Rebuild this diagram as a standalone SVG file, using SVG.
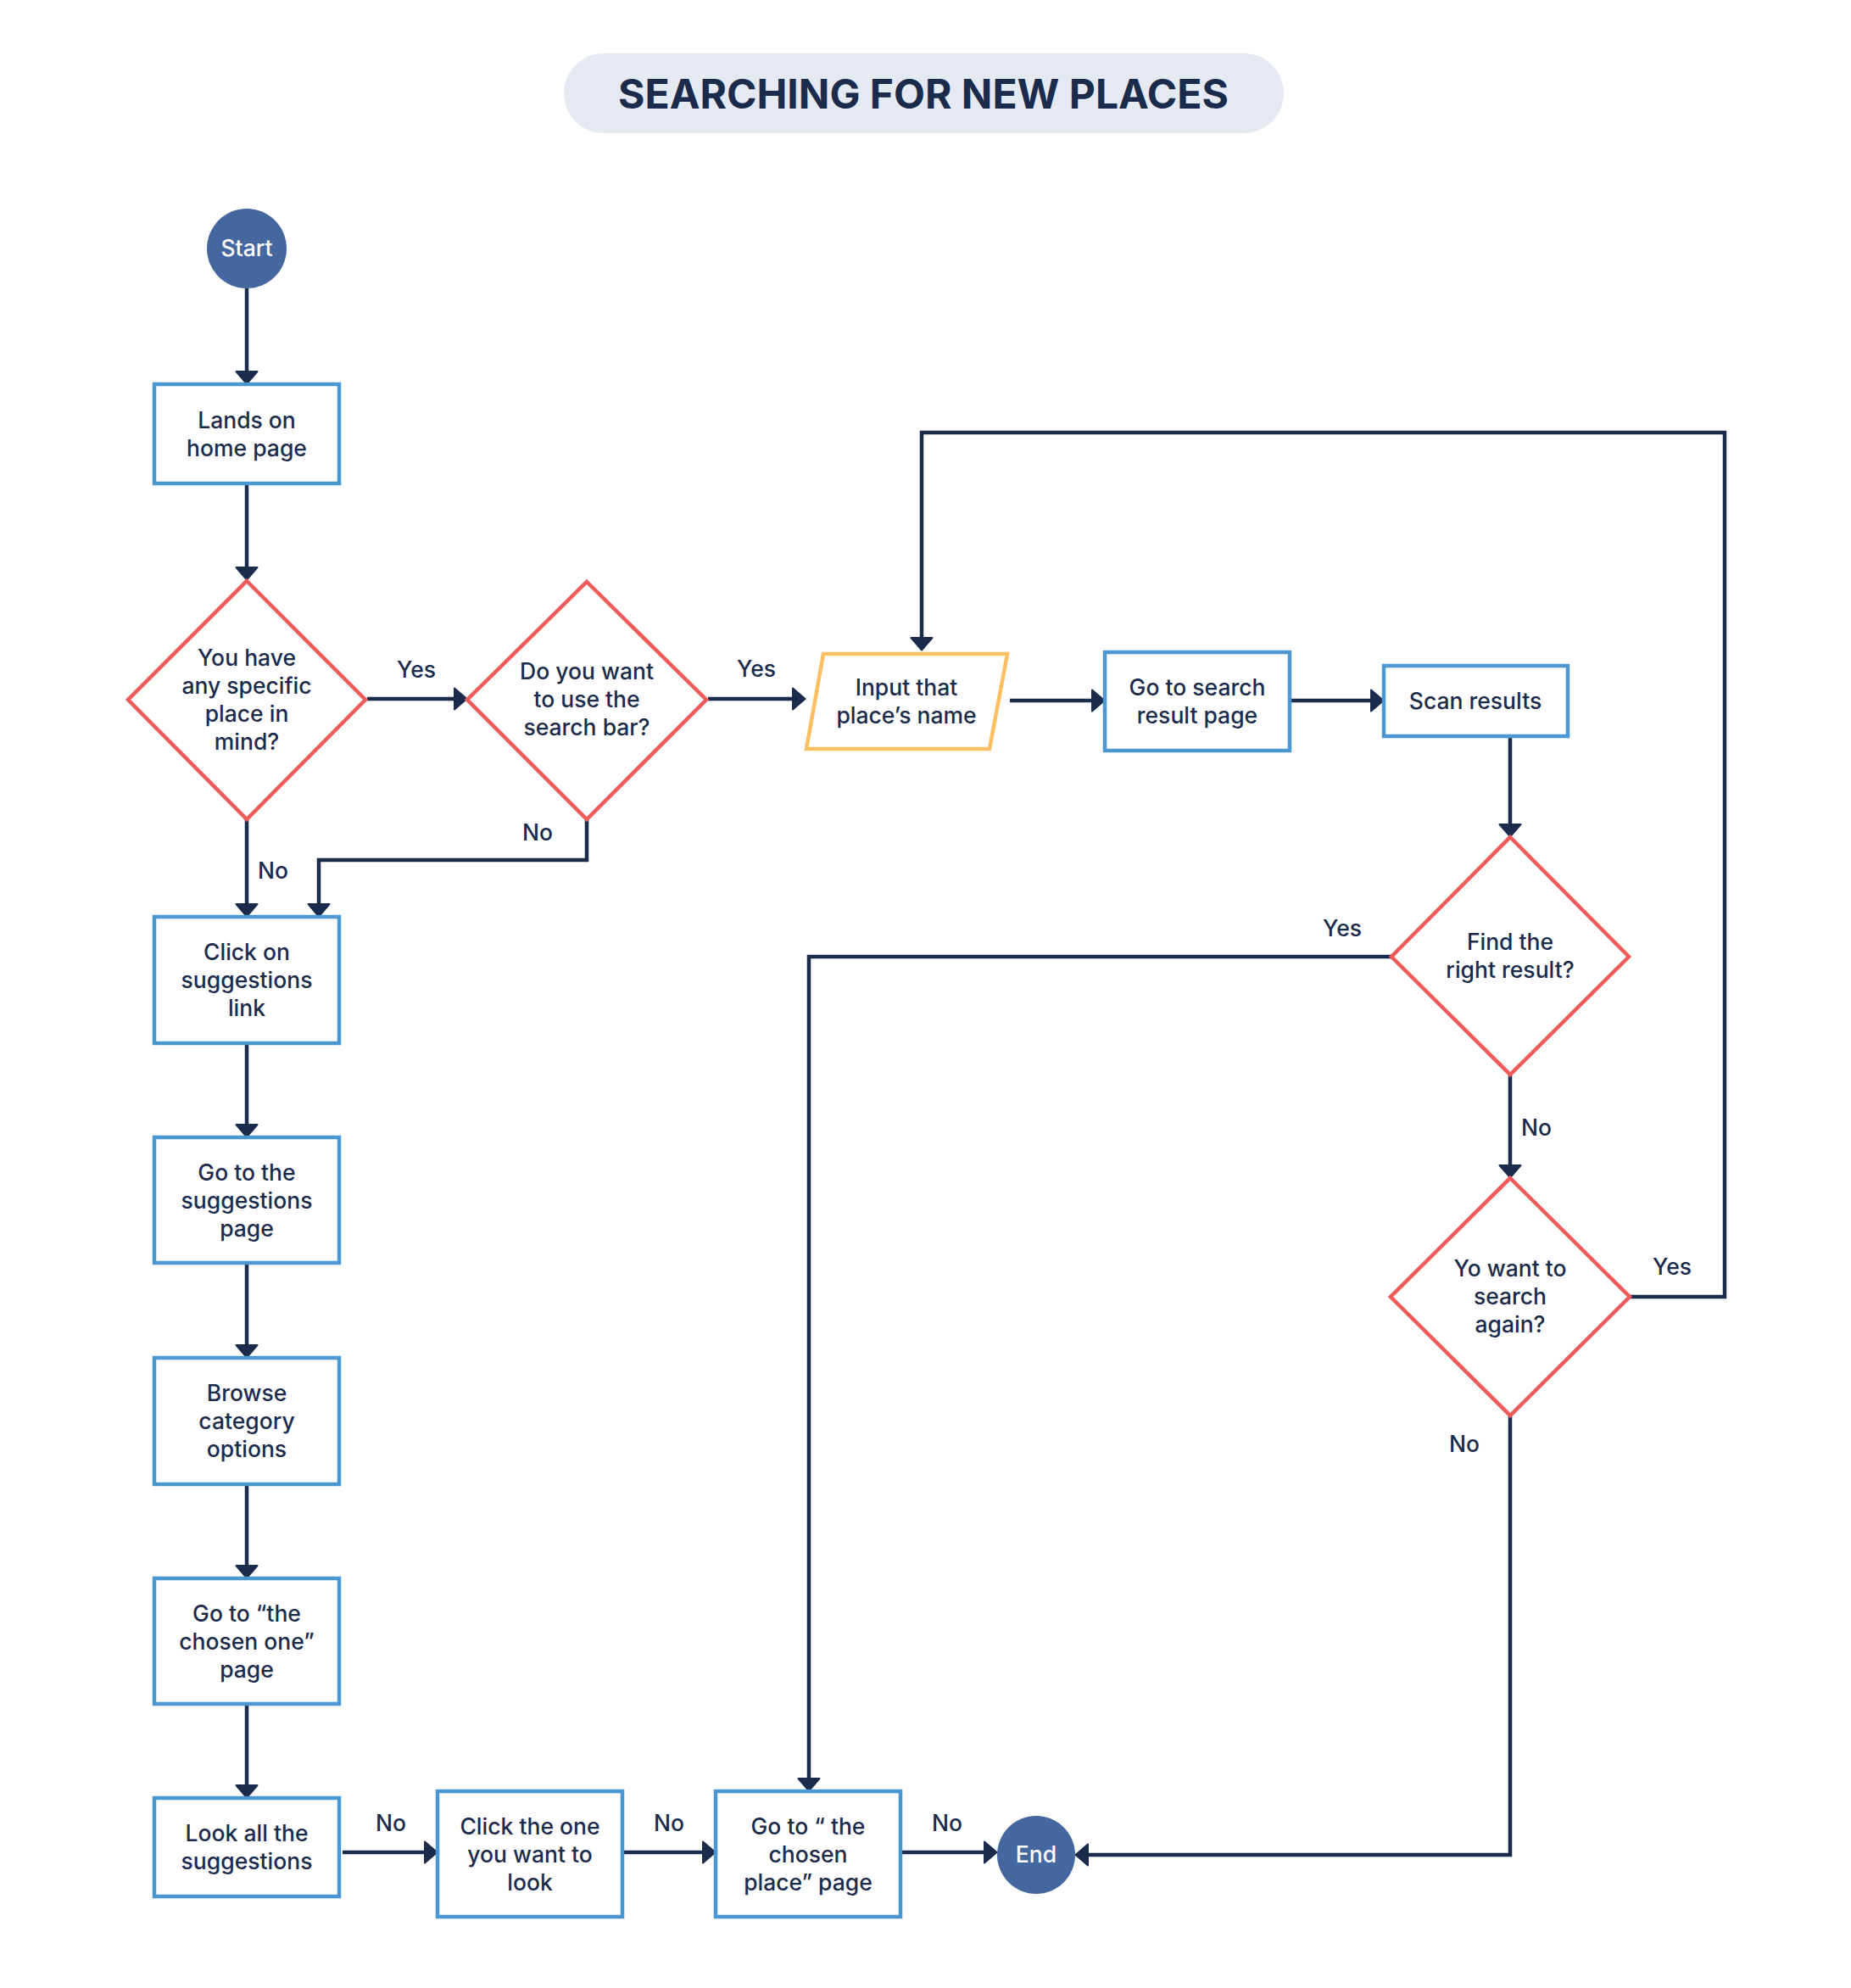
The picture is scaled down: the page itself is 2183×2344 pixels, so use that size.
<svg xmlns="http://www.w3.org/2000/svg" width="2183" height="2344" viewBox="0 0 2183 2344">
<style>
text{font-family:Inter,"Noto Sans","Liberation Sans",sans-serif;font-size:26.5px;font-weight:500;fill:#1a2b4c;text-anchor:middle}
.box{fill:#fff;stroke:#4a97d2;stroke-width:4.5}
.dia{fill:#fff;stroke:#ef5a5a;stroke-width:4.5}
.io{fill:#fff;stroke:#fdbf62;stroke-width:4.5}
.term{fill:#44679f}
.term-t{fill:#fff}
.conn{fill:none;stroke:#1a2b4c;stroke-width:4.5;marker-end:url(#ah)}
.title{font-size:48px;font-weight:700}
</style>
<defs>
<marker id="ah" markerUnits="userSpaceOnUse" viewBox="0 0 18 30" markerWidth="18" markerHeight="30" refX="9" refY="15" orient="auto">
<path d="M2,2.5 L16.5,15 L2,27.5 Z" fill="#1a2b4c" stroke="#1a2b4c" stroke-width="2" stroke-linejoin="round"/>
</marker>
</defs>
<rect width="2183" height="2344" fill="#fff"/>
<g id="title">
<rect x="665" y="63" width="849" height="94" rx="47" fill="#e4e9f2"/>
<text class="title" x="1089" y="128">SEARCHING FOR NEW PLACES</text>
</g>
<g id="connectors">
<path class="conn" d="M291,340 V445"/>
<path class="conn" d="M291,570 V676"/>
<path class="conn" d="M433,824 H543"/>
<path class="conn" d="M835,824 H942"/>
<path class="conn" d="M1191,826 H1295"/>
<path class="conn" d="M1521,826 H1624"/>
<path class="conn" d="M1781,868 V979"/>
<path class="conn" d="M1641,1128 H954 V2104"/>
<path class="conn" d="M1781,1268 V1381"/>
<path class="conn" d="M1922,1529 H2034 V510 H1087 V759"/>
<path class="conn" d="M1781,1669 V2187 H1276"/>
<path class="conn" d="M291,966 V1073"/>
<path class="conn" d="M692,966 V1014 H376 V1073"/>
<path class="conn" d="M291,1230 V1333"/>
<path class="conn" d="M291,1489 V1593"/>
<path class="conn" d="M291,1750 V1853"/>
<path class="conn" d="M291,2009 V2112"/>
<path class="conn" d="M404,2184 H508"/>
<path class="conn" d="M734,2184 H836"/>
<path class="conn" d="M1062,2184 H1168"/>
</g>
<g id="labels">
<text x="491" y="799">Yes</text>
<text x="892" y="798">Yes</text>
<text x="322" y="1036">No</text>
<text x="634" y="991">No</text>
<text x="1583" y="1104">Yes</text>
<text x="1812" y="1339">No</text>
<text x="1972" y="1503">Yes</text>
<text x="1727" y="1712">No</text>
<text x="461" y="2159">No</text>
<text x="789" y="2159">No</text>
<text x="1117" y="2159">No</text>
</g>
<g id="start">
<circle class="term" cx="291" cy="293" r="47"/>
<text class="term-t" x="291" y="302">Start</text>
</g>
<g id="lands">
<rect class="box" x="182" y="453" width="218" height="117"/>
<text x="291"><tspan x="291" y="505">Lands on</tspan><tspan x="291" y="538">home page</tspan></text>
</g>
<g id="q-specific">
<polygon class="dia" points="291,685 431,825 291,966 151,825"/>
<text x="291"><tspan x="291" y="785">You have</tspan><tspan x="291" y="818">any specific</tspan><tspan x="291" y="851">place in</tspan><tspan x="291" y="884">mind?</tspan></text>
</g>
<g id="q-searchbar">
<polygon class="dia" points="692,686 833,825 692,966 551,825"/>
<text x="692"><tspan x="692" y="801">Do you want</tspan><tspan x="692" y="834">to use the</tspan><tspan x="692" y="867">search bar?</tspan></text>
</g>
<g id="input-name">
<polygon class="io" points="971,771 1188,771 1167,883 951,883"/>
<text x="1069"><tspan x="1069" y="820">Input that</tspan><tspan x="1069" y="853">place’s name</tspan></text>
</g>
<g id="search-result">
<rect class="box" x="1303" y="769" width="218" height="116"/>
<text x="1412"><tspan x="1412" y="820">Go to search</tspan><tspan x="1412" y="853">result page</tspan></text>
</g>
<g id="scan">
<rect class="box" x="1632" y="785" width="217" height="83"/>
<text x="1740" y="836">Scan results</text>
</g>
<g id="q-found">
<polygon class="dia" points="1781,987 1921,1128 1781,1267 1641,1128"/>
<text x="1781"><tspan x="1781" y="1120">Find the</tspan><tspan x="1781" y="1153">right result?</tspan></text>
</g>
<g id="q-again">
<polygon class="dia" points="1781,1389 1922,1529 1781,1669 1640,1529"/>
<text x="1781"><tspan x="1781" y="1505">Yo want to</tspan><tspan x="1781" y="1538">search</tspan><tspan x="1781" y="1571">again?</tspan></text>
</g>
<g id="click-suggestions">
<rect class="box" x="182" y="1081" width="218" height="149"/>
<text x="291"><tspan x="291" y="1132">Click on</tspan><tspan x="291" y="1165">suggestions</tspan><tspan x="291" y="1198">link</tspan></text>
</g>
<g id="suggestions-page">
<rect class="box" x="182" y="1341" width="218" height="148"/>
<text x="291"><tspan x="291" y="1392">Go to the</tspan><tspan x="291" y="1425">suggestions</tspan><tspan x="291" y="1458">page</tspan></text>
</g>
<g id="browse">
<rect class="box" x="182" y="1601" width="218" height="149"/>
<text x="291"><tspan x="291" y="1652">Browse</tspan><tspan x="291" y="1685">category</tspan><tspan x="291" y="1718">options</tspan></text>
</g>
<g id="chosen-one">
<rect class="box" x="182" y="1861" width="218" height="148"/>
<text x="291"><tspan x="291" y="1912">Go to “the</tspan><tspan x="291" y="1945">chosen one”</tspan><tspan x="291" y="1978">page</tspan></text>
</g>
<g id="look-all">
<rect class="box" x="182" y="2120" width="218" height="116"/>
<text x="291"><tspan x="291" y="2171">Look all the</tspan><tspan x="291" y="2204">suggestions</tspan></text>
</g>
<g id="click-one">
<rect class="box" x="516" y="2112" width="218" height="148"/>
<text x="625"><tspan x="625" y="2163">Click the one</tspan><tspan x="625" y="2196">you want to</tspan><tspan x="625" y="2229">look</tspan></text>
</g>
<g id="chosen-place">
<rect class="box" x="844" y="2112" width="218" height="148"/>
<text x="953"><tspan x="953" y="2163">Go to “ the</tspan><tspan x="953" y="2196">chosen</tspan><tspan x="953" y="2229">place” page</tspan></text>
</g>
<g id="end">
<circle class="term" cx="1222" cy="2187" r="46"/>
<text class="term-t" x="1222" y="2196">End</text>
</g>
</svg>
